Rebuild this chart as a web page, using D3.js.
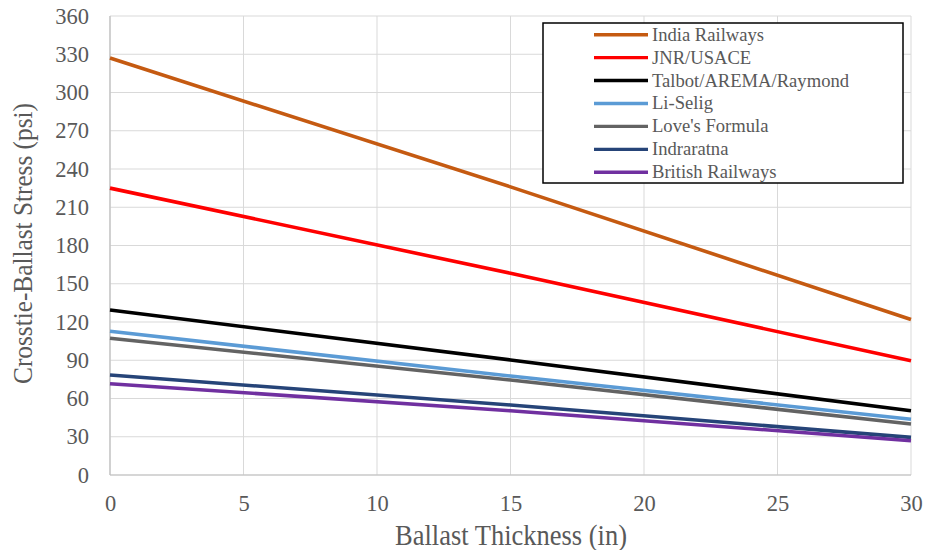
<!DOCTYPE html>
<html><head><meta charset="utf-8">
<script src="https://cdn.jsdelivr.net/npm/d3@7"></script>
<style>body{margin:0;background:#fff}svg{display:block}
svg text{font-family:"Liberation Serif","Times New Roman",Tinos,"DejaVu Serif",serif;}</style>
</head><body><svg id="c" width="931" height="550"></svg>
<script>
const thickness = [0, 15, 30];
const seriesNames = ["India Railways","JNR/USACE","Talbot/AREMA/Raymond","Li-Selig","Love's Formula","Indraratna","British Railways"];
const indiaRailways = [327, 226, 122];
const jnrUsace = [225, 158.2, 89.6];
const talbot = [129.4, 90.2, 50.4];
const liSelig = [112.7, 77.6, 43.7];
const lovesFormula = [107.2, 74.5, 40];
const indraratna = [78.4, 54.9, 29.5];
const britishRailways = [71.6, 50.4, 26.9];
const seriesValues = [indiaRailways, jnrUsace, talbot, liSelig, lovesFormula, indraratna, britishRailways];
const colors = ["#C55A11","#FF0000","#000000","#5B9BD5","#636363","#264478","#7030A0"];
const xTicks = [0,5,10,15,20,25,30];
const yTicks = [0,30,60,90,120,150,180,210,240,270,300,330,360];

const svg = d3.select("#c");
const L=110, R=911, T=16, B=475;
const x = d3.scaleLinear().domain([0,30]).range([L,R]);
const y = d3.scaleLinear().domain([0,360]).range([B,T]);
const txt = "#595959";

svg.append("g").selectAll("line.h").data(yTicks).join("line")
  .attr("x1",L).attr("x2",R).attr("y1",d=>y(d)).attr("y2",d=>y(d))
  .attr("stroke","#D9D9D9").attr("stroke-width",1);
svg.append("g").selectAll("line.v").data(xTicks).join("line")
  .attr("y1",T).attr("y2",B).attr("x1",d=>x(d)).attr("x2",d=>x(d))
  .attr("stroke","#D9D9D9").attr("stroke-width",1);
svg.append("line").attr("x1",L).attr("x2",R).attr("y1",B).attr("y2",B).attr("stroke","#BFBFBF").attr("stroke-width",1.2);
svg.append("line").attr("x1",L).attr("x2",L).attr("y1",T).attr("y2",B).attr("stroke","#BFBFBF").attr("stroke-width",1.2);

const yAxis = svg.append("g").attr("transform",`translate(${L},0)`).call(d3.axisLeft(y).tickValues(yTicks).tickSize(0).tickPadding(21));
const xAxis = svg.append("g").attr("transform",`translate(0,${B})`).call(d3.axisBottom(x).tickValues(xTicks).tickSize(0).tickPadding(20));
[yAxis,xAxis].forEach(a=>{a.attr("font-family",null);a.select(".domain").remove();a.selectAll("text").attr("font-size",22.5).attr("fill",txt);});

svg.append("text").attr("transform","translate(511,545) scale(1,1.1)").attr("text-anchor","middle").attr("font-size",26.5).attr("fill",txt).text("Ballast Thickness (in)");
svg.append("text").attr("transform","translate(32,243.5) rotate(-90) scale(1,1.1)").attr("text-anchor","middle").attr("font-size",25.3).attr("fill",txt).text("Crosstie-Ballast Stress (psi)");

const line = d3.line().x((d,i)=>x(thickness[i])).y(d=>y(d));
svg.append("g").selectAll("path").data(seriesValues).join("path")
  .attr("d",line).attr("fill","none").attr("stroke",(d,i)=>colors[i]).attr("stroke-width",3.6);

const lg = svg.append("g");
lg.append("rect").attr("x",543).attr("y",23).attr("width",360).attr("height",160).attr("fill","#fff").attr("stroke","#000").attr("stroke-width",1.5);
const items = lg.selectAll("g").data(seriesNames).join("g").attr("transform",(d,i)=>`translate(0,${34.7+i*22.93})`);
items.append("line").attr("x1",594).attr("x2",648).attr("y1",0).attr("y2",0).attr("stroke",(d,i)=>colors[i]).attr("stroke-width",3.4);
items.append("text").attr("x",652).attr("y",6).attr("font-size",18.6).attr("fill",txt).text(d=>d);
</script></body></html>
